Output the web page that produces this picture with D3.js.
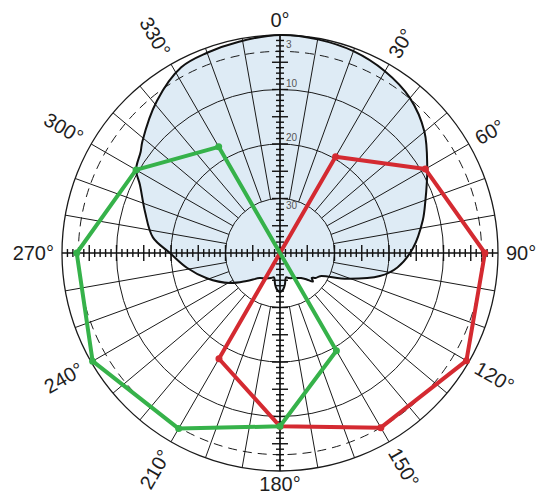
<!DOCTYPE html>
<html><head><meta charset="utf-8">
<script src="https://cdn.jsdelivr.net/npm/d3@7"></script>
<style>body{margin:0;background:#fff} svg{display:block}</style>
</head><body>
<svg id="c" width="539" height="497"></svg>
<script>
// ---- data ----
const patternAngles = [0,10,20,30,40,50,60,65,70,77,88,97,103,111,120,125,128,131,135,140,150,160,166,171,175,180,185,189,194,200,210,219,230,239,251,261,270,277,287,296,300,306,309,321,332,340,349];
const patternDb     = [0,0.2,0.6,1.5,2.9,5.4,8.8,10.3,11.6,13.1,15.6,18.3,21.2,26.8,31.5,32.0,32.6,32.0,33.2,34,34.7,35.1,35.4,34.2,33.3,32.8,33.3,34.2,35.4,35.1,34.6,34.1,32,29.3,25.8,22.7,19.8,16.5,14.1,11.4,9.5,8.4,7.5,4.1,1.4,0.9,0.5];
const redAngles   = [30,60,90,120,150,180,210];
const redDb       = [19.6,9.2,2.4,0.5,3.0,8.2,17.6];
const greenAngles = [330,300,270,240,210,180,150];
const greenDb     = [17.5,9.5,2.7,0.3,2.8,8.2,19.3];
const angleLabels = [0,30,60,90,120,150,180,210,240,270,300,330];
const ringDb      = [10,20,30];
const dashedDb    = [3];
const ringLabels  = ["3","10","20","30"];
const ringLabelDb = [3,10,20,30];

// ---- layout ----
const cx = 280, cy = 253, R = 218;
const r = d3.scaleLinear().domain([0,40]).range([R,0]);
const rad = a => a*Math.PI/180;
const px = (a,rr) => Math.sin(rad(a))*rr;
const py = (a,rr) => -Math.cos(rad(a))*rr;

const svg = d3.select("#c");
const g = svg.append("g").attr("transform",`translate(${cx},${cy})`);

const pattern = patternAngles.map((a,i)=>({a, d:patternDb[i]}));
const lineR = d3.lineRadial().angle(p=>rad(p.a)).radius(p=>r(p.d)).curve(d3.curveCatmullRomClosed.alpha(0.5));

// fill
g.append("path").datum(pattern).attr("d", lineR)
  .attr("fill","#deebf5").attr("stroke","none");

// rings
g.append("circle").attr("r",R).attr("fill","none").attr("stroke","#1a1a1a").attr("stroke-width",1.3);
g.selectAll(".ring").data(ringDb).join("circle")
  .attr("r",d=>r(d)).attr("fill","none").attr("stroke","#1a1a1a").attr("stroke-width",1);
g.selectAll(".dring").data(dashedDb).join("circle")
  .attr("r",d=>r(d)).attr("fill","none").attr("stroke","#1a1a1a").attr("stroke-width",1)
  .attr("stroke-dasharray","9,6");

// spokes
const spokes = d3.range(10,360,10).filter(a=>a%90!==0);
g.selectAll(".spoke").data(spokes).join("line")
  .attr("x1",a=>px(a,r(30))).attr("y1",a=>py(a,r(30)))
  .attr("x2",a=>px(a,R)).attr("y2",a=>py(a,R))
  .attr("stroke","#1a1a1a").attr("stroke-width",1);

// main axes
[0,90].forEach(a=>{
  g.append("line").attr("x1",px(a,R)).attr("y1",py(a,R)).attr("x2",-px(a,R)).attr("y2",-py(a,R))
   .attr("stroke","#111").attr("stroke-width",1.7);
});
// ticks
const tickDb = d3.range(1,40);
[0,90,180,270].forEach(a=>{
  tickDb.forEach(d=>{
    const rr = r(d), L = d%5===0 ? 8 : 4;
    const x = px(a,rr), y = py(a,rr);
    const tx = Math.cos(rad(a))*L, ty = Math.sin(rad(a))*L;
    g.append("line").attr("x1",x-tx).attr("y1",y-ty).attr("x2",x+tx).attr("y2",y+ty)
     .attr("stroke","#111").attr("stroke-width",1.4);
  });
});

// pattern outline
g.append("path").datum(pattern).attr("d", lineR)
  .attr("fill","none").attr("stroke","#111").attr("stroke-width",2);

// ring labels
g.selectAll(".rl").data(ringLabels).join("text")
  .attr("x",6).attr("y",(t,i)=> ringLabelDb[i]===30 ? -r(ringLabelDb[i])+10 : -r(ringLabelDb[i])-3)
  .attr("font-family","Liberation Sans, Arial, sans-serif").attr("font-size",10)
  .attr("fill","#555").text(t=>t);

// polygons
function poly(angles, dbs, color){
  const pts = angles.map((a,i)=>({a, d:dbs[i]}));
  g.append("path").datum(pts).attr("d", d3.lineRadial().angle(p=>rad(p.a)).radius(p=>r(p.d)).curve(d3.curveLinearClosed))
    .attr("fill","none").attr("stroke",color).attr("stroke-width",4).attr("stroke-linejoin","round");
  g.selectAll(null).data(pts).join("circle")
    .attr("cx",p=>px(p.a,r(p.d))).attr("cy",p=>py(p.a,r(p.d))).attr("r",3.5).attr("fill",color);
}
poly(redAngles, redDb, "#d42a31");
poly(greenAngles, greenDb, "#36b24a");

// angle labels
const font = "Liberation Sans, Arial, Helvetica, sans-serif";
angleLabels.forEach(a=>{
  let x, y, rot = 0, anchor = "middle", dy = "0.35em";
  if (a===0){ x=0; y=-R-8; dy="0"; }
  else if (a===180){ x=0; y=R+20; dy="0"; }
  else if (a===90){ x=R+8; y=0; anchor="start"; }
  else if (a===270){ x=-R-8; y=0; anchor="end"; }
  else if (a<180){ const ri=R+9; x=px(a,ri); y=py(a,ri); rot=a-90; anchor="start"; }
  else { const ri=R+11; x=px(a,ri); y=py(a,ri); rot=a-270; anchor="end"; }
  g.append("text").attr("transform",`translate(${x},${y}) rotate(${rot})`)
    .attr("text-anchor",anchor).attr("dy",dy)
    .attr("font-family",font).attr("font-size",20).attr("fill","#1e1e1e")
    .text(a+"°");
});
</script>
</body></html>
